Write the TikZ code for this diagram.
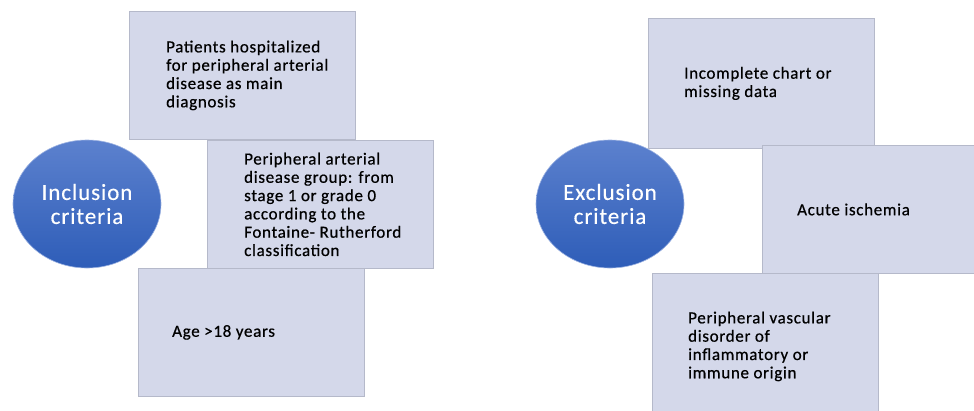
\documentclass[tikz,border=0pt]{standalone}
\usepackage{fontspec}
\setmainfont{Carlito}[LetterSpace=4.0]
\usepackage{tikz}
\usetikzlibrary{shapes.geometric,positioning}
\usepackage{xcolor}

\definecolor{boxfill}{HTML}{D4D8EA}
\definecolor{boxline}{HTML}{B5B9CA}
\definecolor{ovaltop}{HTML}{5C81CE}
\definecolor{ovalbot}{HTML}{2E5DB8}

\tikzset{
    critbox/.style={rectangle, draw=boxline, fill=boxfill, line width=0.8pt,
        minimum width=226pt, minimum height=128pt, inner sep=0pt, anchor=north west},
    crittext/.style={anchor=west, inner sep=0pt, align=left, text=black,
        font=\fontsize{17}{18.3}\selectfont\addfontfeature{FakeBold=0.6}},
    critoval/.style={ellipse, minimum width=148pt, minimum height=128pt, inner sep=0pt,
        top color=ovaltop, bottom color=ovalbot, draw=ovaltop!60!white, line width=0.6pt,
        text=white, align=center, font=\fontsize{23}{24}\selectfont\addfontfeature{FakeBold=0.3}}
}

\begin{document}
\begin{tikzpicture}[x=1pt,y=-1pt]
    \clip (0,0) rectangle (974,410);

    % 纳入标准
    \node[critoval] (inc) at (87,204) {Inclusion\\criteria};
    \node[critbox] (inc1) at (129,11) {};
    \node[critbox] (inc2) at (207,140) {};
    \node[critbox] (inc3) at (138,268) {};
    \node[crittext, right=37pt of inc1.west] (tinc1) {Patients hospitalized\\for peripheral arterial\\disease as main\\diagnosis};
    \node[crittext, right=37pt of inc2.west] (tinc2) {Peripheral arterial\\disease group: from\\stage 1 or grade 0\\according to the\\Fontaine- Rutherford\\classification};
    \node[crittext, right=34pt of inc3.west] (tinc3) {Age >18 years};

    % 排除标准
    \node[critoval] (exc) at (610,204) {Exclusion\\criteria};
    \node[critbox, minimum height=130pt] (exc1) at (648,18) {};
    \node[critbox] (exc2) at (762,145) {};
    \node[critbox, minimum height=146pt] (exc3) at (652,273) {};
    \node[crittext, right=36pt of exc1.west] (texc1) {Incomplete chart or\\missing data};
    \node[crittext, right=35pt of exc2.west] (texc2) {Acute ischemia};
    \node[crittext, right=36pt of exc3.west] (texc3) {Peripheral vascular\\disorder of\\inflammatory or\\immune origin};
\end{tikzpicture}
\end{document}
